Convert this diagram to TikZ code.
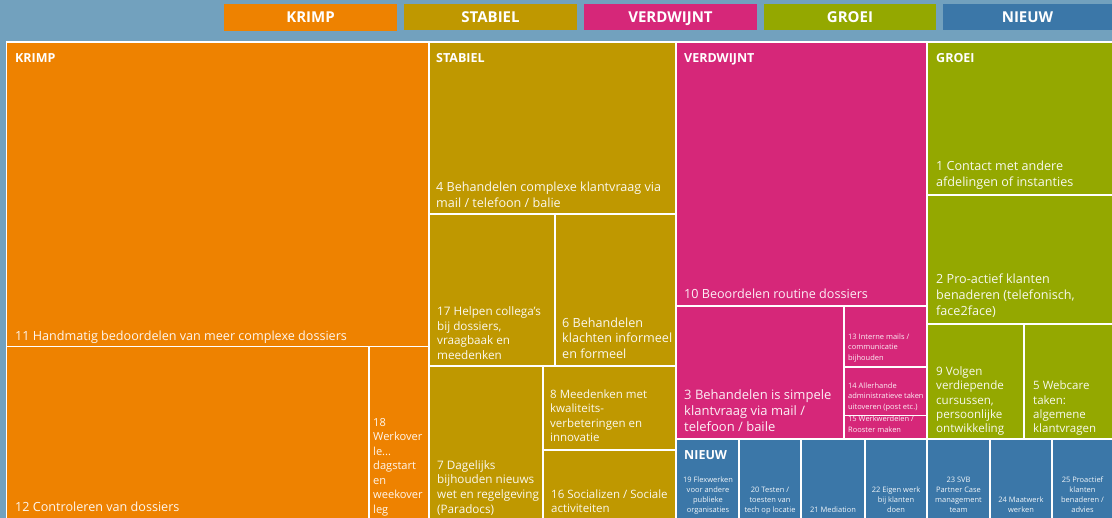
\documentclass[tikz,border=0pt]{standalone}
\usepackage{fontspec}
\setmainfont{Open Sans}
\definecolor{bgblue}{RGB}{114,161,190}
\definecolor{ckrimp}{RGB}{238,130,0}
\definecolor{cstabiel}{RGB}{191,152,0}
\definecolor{cverdw}{RGB}{214,39,121}
\definecolor{cgroei}{RGB}{148,168,0}
\definecolor{cnieuw}{RGB}{59,119,168}
\tikzset{
  tile/.style={draw=white, line width=1.6pt},
  legtext/.style={anchor=base, text=white, font=\fontsize{15}{16}\selectfont\bfseries, inner sep=0},
  hdr/.style={anchor=base west, inner sep=0, text=white, font=\fontsize{12.5}{15}\selectfont\bfseries},
  lab/.style={anchor=south west, inner sep=0, align=left, text=white, text opacity=0.93,
    font=\fontsize{12.6}{15}\selectfont, text depth=3.2pt, yshift=-7.5pt},
  sm/.style={anchor=south west, inner sep=0, align=left, text=white, text opacity=0.93,
    font=\fontsize{7.5}{10.5}\selectfont, text depth=2pt, yshift=-4pt},
  nw/.style={anchor=south, inner sep=0, align=center, text=white, text opacity=0.93,
    font=\fontsize{7.5}{10}\selectfont, text depth=2pt, yshift=-4pt},
}
\begin{document}
\begin{tikzpicture}[x=1pt, y=-1pt]
\useasboundingbox (0,0) rectangle (1112,518);
\fill[bgblue] (0,0) rectangle (1112,518);
% legend
\fill[ckrimp] (224,4) rectangle (397,31);
\fill[cstabiel] (404,4) rectangle (577,30);
\fill[cverdw] (584,4) rectangle (757,30);
\fill[cgroei] (764,4) rectangle (936,30);
\fill[cnieuw] (943,4) rectangle (1112,30);
\node[legtext] (lk) at (310.5,23) {KRIMP};
\node[legtext] (ls) at (490.5,22.5) {STABIEL};
\node[legtext] (lv) at (670.5,22.5) {VERDWIJNT};
\node[legtext] (lg) at (850,22.5) {GROEI};
\node[legtext] (ln) at (1027.5,22.5) {NIEUW};
% KRIMP
\path[tile, fill=ckrimp] (6.5,41.8) rectangle (429,346.5);
\path[tile, fill=ckrimp] (6.5,346.5) rectangle (369,520);
\path[tile, fill=ckrimp] (369,346.5) rectangle (429,520);
% STABIEL
\path[tile, fill=cstabiel] (429,41.8) rectangle (676,214);
\path[tile, fill=cstabiel] (429,214) rectangle (555,366);
\path[tile, fill=cstabiel] (555,214) rectangle (676,366);
\path[tile, fill=cstabiel] (429,366) rectangle (543,520);
\path[tile, fill=cstabiel] (543,366) rectangle (676,450);
\path[tile, fill=cstabiel] (543,450) rectangle (676,520);
% VERDWIJNT
\path[tile, fill=cverdw] (676,41.8) rectangle (927,306);
\path[tile, fill=cverdw] (676,306) rectangle (844,439);
\path[tile, fill=cverdw] (844,306) rectangle (927,367);
\path[tile, fill=cverdw] (844,367) rectangle (927,415.5);
\path[tile, fill=cverdw] (844,415.5) rectangle (927,439);
% GROEI
\path[tile, fill=cgroei] (927,41.8) rectangle (1114,195);
\path[tile, fill=cgroei] (927,195) rectangle (1114,324);
\path[tile, fill=cgroei] (927,324) rectangle (1024,439);
\path[tile, fill=cgroei] (1024,324) rectangle (1114,439);
% NIEUW
\path[tile, fill=cnieuw] (676,439) rectangle (739,520);
\path[tile, fill=cnieuw] (739,439) rectangle (801,520);
\path[tile, fill=cnieuw] (801,439) rectangle (865,520);
\path[tile, fill=cnieuw] (865,439) rectangle (927,520);
\path[tile, fill=cnieuw] (927,439) rectangle (990,520);
\path[tile, fill=cnieuw] (990,439) rectangle (1052,520);
\path[tile, fill=cnieuw] (1052,439) rectangle (1114,520);
% headers
\node[hdr] (hk) at (15,62.5) {KRIMP};
\node[hdr] (hs) at (436,62.5) {STABIEL};
\node[hdr] (hv) at (684,62.5) {VERDWIJNT};
\node[hdr] (hg) at (936,62.5) {GROEI};
\node[hdr] (hn) at (684,459.5) {NIEUW};
% labels
\node[lab] (n11) at (15,336) {11 Handmatig bedoordelen van meer complexe dossiers};
\node[lab] (n12) at (15,507) {12 Controleren van dossiers};
\node[lab, font=\fontsize{11.1}{14.5}\selectfont] (n18) at (373,509) {18\\Werkover\\le...\\dagstart\\en\\weekover\\leg};
\node[lab, font=\fontsize{12.6}{16}\selectfont] (n4) at (436,203) {4 Behandelen complexe klantvraag via\\mail / telefoon / balie};
\node[lab, font=\fontsize{11.7}{14.5}\selectfont] (n17) at (437,355) {17 Helpen collega’s\\bij dossiers,\\vraagbaak en\\meedenken};
\node[lab, font=\fontsize{12.6}{15.5}\selectfont] (n6) at (562,354) {6 Behandelen\\klachten informeel\\en formeel};
\node[lab, font=\fontsize{11.7}{14.7}\selectfont] (n7) at (437,509) {7 Dagelijks\\bijhouden nieuws\\wet en regelgeving\\(Paradocs)};
\node[lab, font=\fontsize{11.5}{14.5}\selectfont] (n8) at (550,437.7) {8 Meedenken met\\kwaliteits-\\verbeteringen en\\innovatie};
\node[lab, font=\fontsize{11.5}{14.7}\selectfont] (n16) at (551,508.7) {16 Socializen / Sociale\\activiteiten};
\node[lab] (n10) at (684,294.3) {10 Beoordelen routine dossiers};
\node[lab, font=\fontsize{13}{15.7}\selectfont] (n3) at (684,427.3) {3 Behandelen is simpele\\klantvraag via mail /\\telefoon / baile};
\node[lab, font=\fontsize{12.6}{16}\selectfont] (n1) at (936,182.7) {1 Contact met andere\\afdelingen of instanties};
\node[lab, font=\fontsize{12.6}{16}\selectfont] (n2) at (936,311.3) {2 Pro-actief klanten\\benaderen (telefonisch,\\face2face)};
\node[lab, font=\fontsize{11.6}{14.3}\selectfont] (n9) at (936,428.7) {9 Volgen\\verdiepende\\cursussen,\\persoonlijke\\ontwikkeling};
\node[lab, font=\fontsize{11.5}{14.3}\selectfont] (n5) at (1033,428.7) {5 Webcare\\taken:\\algemene\\klantvragen};
% small
\node[sm] (n13) at (848,358.3) {13 Interne mails /\\communicatie\\bijhouden};
\node[sm] (n14) at (848,407.3) {14 Allerhande\\administratieve taken\\uitoveren (post etc.)};
\node[sm, font=\fontsize{7.5}{11.4}\selectfont] (n15) at (848,430.7) {15 Werkwerdelen /\\Rooster maken};
% nieuw
\node[nw] (n19) at (708,510.7) {19 Flexwerken\\voor andere\\publieke\\organisaties};
\node[nw] (n20) at (770,510.7) {20 Testen /\\toesten van\\tech op locatie};
\node[nw] (n21) at (833,510.7) {21 Mediation};
\node[nw] (n22) at (896,510.7) {22 Eigen werk\\bij klanten\\doen};
\node[nw] (n23) at (958.5,510.7) {23 SVB\\Partner Case\\management\\team};
\node[nw] (n24) at (1021,510.7) {24 Maatwerk\\werken};
\node[nw] (n25) at (1082.5,510.7) {25 Proactief\\klanten\\benaderen /\\advies};
\end{tikzpicture}
\end{document}
